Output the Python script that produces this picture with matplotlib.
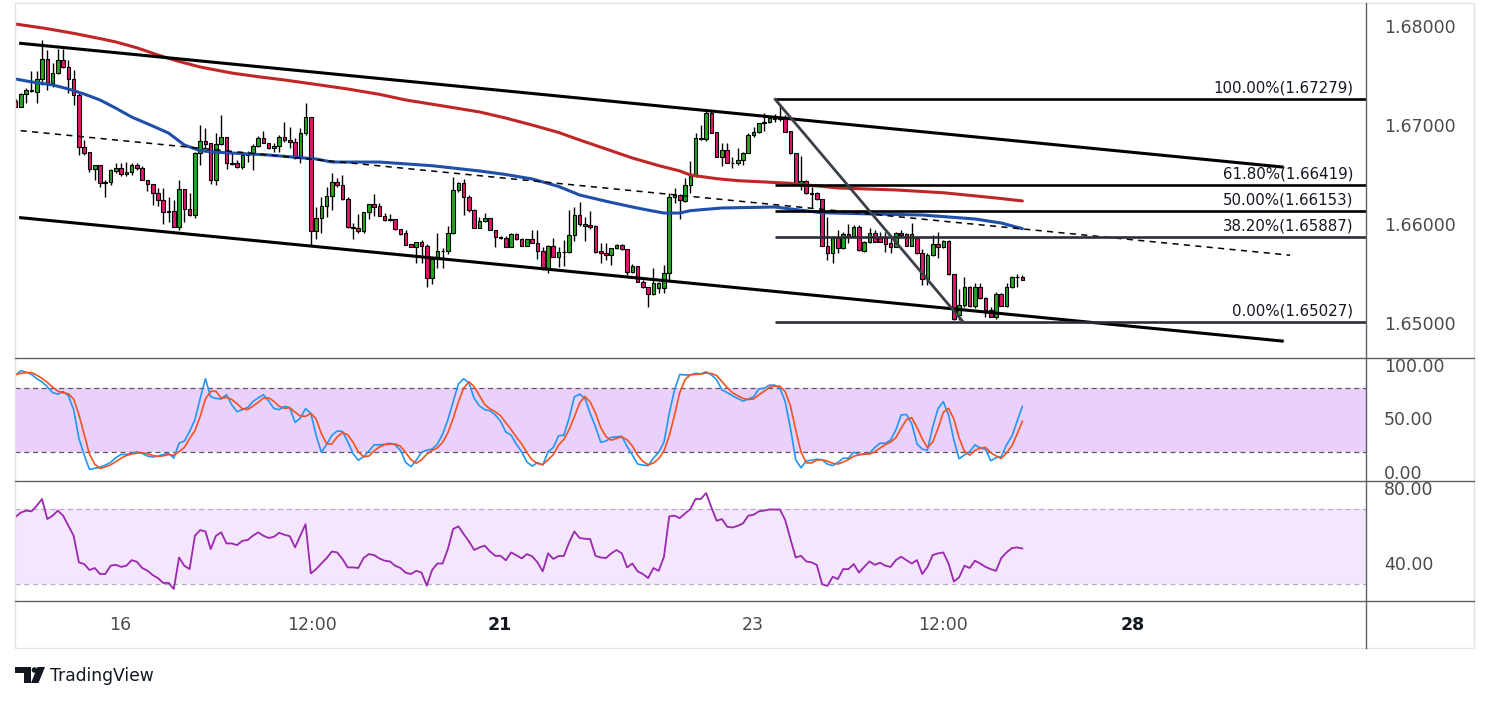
import numpy as np
import matplotlib
matplotlib.use('Agg')
import matplotlib.pyplot as plt
from matplotlib.patches import Polygon, Circle
import matplotlib.transforms as mtransforms

# ---------------- data ----------------
opens = [1.67266,1.67205,1.67330,1.67364,1.67357,1.67482,1.67684,1.67441,1.67542,1.67674,
1.67603,1.67482,1.67323,1.66795,1.66748,1.66573,1.66613,1.66438,1.66442,1.66559,
1.66583,1.66522,1.66543,1.66613,1.66583,1.66462,1.66421,1.66330,1.66263,1.66152,
1.66152,1.65987,1.66371,1.66169,1.66108,1.66740,1.66856,1.66835,1.66462,1.66828,
1.66899,1.66633,1.66633,1.66599,1.66717,1.66727,1.66808,1.66889,1.66835,1.66785,
1.66808,1.66899,1.66869,1.66848,1.66684,1.66936,1.67098,1.65950,1.66078,1.66202,
1.66303,1.66442,1.66414,1.66273,1.65987,1.65980,1.65953,1.66139,1.66219,1.66202,
1.66104,1.66061,1.66071,1.65967,1.65926,1.65818,1.65791,1.65835,1.65801,1.65472,
1.65667,1.65751,1.65748,1.65926,1.66364,1.66431,1.66296,1.66162,1.65983,1.66051,
1.66078,1.65960,1.65886,1.65876,1.65791,1.65919,1.65866,1.65801,1.65866,1.65825,
1.65751,1.65573,1.65798,1.65690,1.65734,1.65740,1.65909,1.66111,1.66020,1.66010,
1.65995,1.65748,1.65724,1.65710,1.65775,1.65808,1.65765,1.65539,1.65596,1.65438,
1.65381,1.65313,1.65371,1.65371,1.65529,1.66296,1.66313,1.66256,1.66414,1.66505,
1.66876,1.66876,1.67145,1.66953,1.66700,1.66768,1.66633,1.66633,1.66667,1.66734,
1.66919,1.66953,1.67037,1.67047,1.67086,1.67078,1.67088,1.66960,1.66734,1.66438,
1.66458,1.66337,1.66337,1.66270,1.65798,1.65730,1.65876,1.65775,1.65919,1.65899,
1.65993,1.65751,1.65835,1.65926,1.65882,1.65882,1.65825,1.65791,1.65933,1.65919,
1.65801,1.65876,1.65724,1.65462,1.65707,1.65818,1.65791,1.65849,1.65512,1.65101,
1.65202,1.65381,1.65192,1.65381,1.65270,1.65152,1.65078,1.65313,1.65192,1.65381,
1.65482,1.65488]

closes = [1.67205,1.67330,1.67374,1.67374,1.67482,1.67684,1.67441,1.67542,1.67674,1.67603,
1.67482,1.67323,1.66795,1.66740,1.66573,1.66613,1.66438,1.66442,1.66566,1.66583,
1.66522,1.66543,1.66613,1.66583,1.66462,1.66421,1.66330,1.66263,1.66139,1.66139,
1.65987,1.66371,1.66169,1.66108,1.66740,1.66856,1.66828,1.66462,1.66828,1.66899,
1.66633,1.66623,1.66599,1.66717,1.66727,1.66808,1.66889,1.66835,1.66785,1.66808,
1.66899,1.66869,1.66848,1.66684,1.66936,1.67098,1.65950,1.66078,1.66202,1.66303,
1.66442,1.66414,1.66273,1.65987,1.65983,1.65953,1.66139,1.66219,1.66195,1.66104,
1.66061,1.66071,1.65967,1.65919,1.65808,1.65791,1.65835,1.65801,1.65472,1.65667,
1.65751,1.65748,1.65926,1.66364,1.66431,1.66296,1.66162,1.65983,1.66051,1.66078,
1.65960,1.65886,1.65883,1.65791,1.65919,1.65866,1.65801,1.65866,1.65825,1.65751,
1.65573,1.65798,1.65690,1.65734,1.65740,1.65909,1.66111,1.66017,1.66000,1.65987,
1.65741,1.65724,1.65710,1.65775,1.65808,1.65765,1.65539,1.65596,1.65438,1.65381,
1.65313,1.65421,1.65421,1.65529,1.66296,1.66313,1.66263,1.66414,1.66505,1.66886,
1.66886,1.67145,1.66943,1.66700,1.66768,1.66633,1.66640,1.66667,1.66740,1.66919,
1.66953,1.67037,1.67047,1.67086,1.67078,1.67098,1.66953,1.66734,1.66438,1.66458,
1.66330,1.66323,1.66270,1.65798,1.65730,1.65876,1.65775,1.65919,1.65899,1.65993,
1.65758,1.65835,1.65926,1.65842,1.65842,1.65818,1.65791,1.65933,1.65909,1.65801,
1.65919,1.65724,1.65462,1.65707,1.65818,1.65791,1.65849,1.65512,1.65058,1.65202,
1.65381,1.65192,1.65381,1.65270,1.65152,1.65084,1.65313,1.65192,1.65381,1.65482,
1.65488,1.65455]

highs = [1.67283,1.67347,1.67391,1.67566,1.67566,1.67879,1.67778,1.67643,1.67785,1.67785,
1.67677,1.67576,1.67340,1.66869,1.66748,1.66613,1.66613,1.66465,1.66573,1.66633,
1.66633,1.66643,1.66633,1.66633,1.66606,1.66462,1.66421,1.66381,1.66381,1.66290,
1.66263,1.66465,1.66371,1.66330,1.66751,1.67020,1.66990,1.66835,1.66936,1.67121,
1.66899,1.66734,1.66667,1.66734,1.66761,1.66828,1.66909,1.66963,1.66835,1.66835,
1.66916,1.67051,1.67003,1.66886,1.66987,1.67239,1.67100,1.66195,1.66296,1.66397,
1.66532,1.66482,1.66515,1.66296,1.66033,1.66121,1.66145,1.66222,1.66320,1.66229,
1.66135,1.66121,1.66071,1.65967,1.65960,1.65818,1.65838,1.65859,1.65818,1.65674,
1.65926,1.65775,1.66000,1.66492,1.66448,1.66472,1.66313,1.66168,1.66088,1.66128,
1.66080,1.65960,1.65899,1.65899,1.65933,1.65933,1.65876,1.65870,1.65960,1.65960,
1.65791,1.65808,1.65876,1.65791,1.65859,1.66162,1.66195,1.66246,1.66094,1.66152,
1.66010,1.65831,1.65831,1.65778,1.65815,1.65815,1.65765,1.65616,1.65600,1.65455,
1.65387,1.65579,1.65438,1.65606,1.66330,1.66381,1.66320,1.66482,1.66660,1.66936,
1.67020,1.67179,1.67165,1.66953,1.66842,1.66842,1.66700,1.66785,1.66751,1.66936,
1.67003,1.67044,1.67138,1.67104,1.67128,1.67230,1.67121,1.66960,1.66734,1.66707,
1.66465,1.66397,1.66340,1.66273,1.66094,1.65892,1.65960,1.65943,1.66017,1.66010,
1.66010,1.65845,1.65977,1.65960,1.65943,1.65943,1.65892,1.65943,1.65960,1.65926,
1.66027,1.65892,1.65765,1.65724,1.65909,1.65943,1.65859,1.65859,1.65515,1.65361,
1.65488,1.65390,1.65428,1.65428,1.65280,1.65185,1.65337,1.65327,1.65428,1.65495,
1.65515,1.65505]

lows = [1.67202,1.67202,1.67239,1.67357,1.67239,1.67424,1.67374,1.67401,1.67540,1.67593,
1.67340,1.67222,1.66717,1.66717,1.66549,1.66465,1.66391,1.66290,1.66414,1.66532,
1.66508,1.66508,1.66515,1.66566,1.66462,1.66357,1.66212,1.66202,1.66020,1.66044,
1.65985,1.65960,1.66044,1.66105,1.66078,1.66616,1.66785,1.66424,1.66411,1.66818,
1.66573,1.66616,1.66589,1.66573,1.66643,1.66566,1.66801,1.66835,1.66778,1.66751,
1.66751,1.66852,1.66785,1.66674,1.66640,1.66919,1.65808,1.65866,1.65926,1.66094,
1.66162,1.66397,1.66263,1.65976,1.65866,1.65933,1.65933,1.66068,1.66101,1.66101,
1.66054,1.66054,1.65960,1.65909,1.65808,1.65784,1.65623,1.65623,1.65381,1.65414,
1.65573,1.65573,1.65717,1.65919,1.66347,1.66111,1.66145,1.65976,1.65976,1.66044,
1.65958,1.65791,1.65866,1.65788,1.65788,1.65859,1.65797,1.65797,1.65825,1.65664,
1.65556,1.65529,1.65690,1.65583,1.65596,1.65724,1.65849,1.66000,1.65852,1.65967,
1.65730,1.65630,1.65657,1.65606,1.65771,1.65758,1.65505,1.65529,1.65435,1.65371,
1.65185,1.65303,1.65327,1.65320,1.65455,1.66229,1.66068,1.66246,1.66337,1.66492,
1.66869,1.66862,1.66943,1.66700,1.66606,1.66633,1.66583,1.66616,1.66616,1.66734,
1.66896,1.66943,1.66963,1.67040,1.67051,1.67060,1.66950,1.66730,1.66435,1.66364,
1.66327,1.66179,1.66266,1.65795,1.65657,1.65630,1.65724,1.65765,1.65825,1.65892,
1.65751,1.65741,1.65825,1.65838,1.65838,1.65741,1.65724,1.65788,1.65892,1.65797,
1.65797,1.65717,1.65404,1.65404,1.65697,1.65674,1.65775,1.65505,1.65055,1.65051,
1.65179,1.65185,1.65169,1.65260,1.65084,1.65078,1.65058,1.65192,1.65179,1.65371,
1.65387,1.65455]

# moving averages sampled at candle indices
ma_red_idx = [0, 6, 11, 16, 19, 23, 27, 31, 35, 41, 46, 51, 57, 63, 69, 74, 81, 88, 93, 98, 103, 107,
              112, 117, 122, 126, 128, 133, 137, 142, 147, 156, 167, 176, 186, 191]
ma_red_val = [1.68040,1.67993,1.67946,1.67893,1.67859,1.67800,1.67727,1.67662,1.67606,1.67545,1.67508,
              1.67475,1.67430,1.67384,1.67330,1.67273,1.67213,1.67152,1.67090,1.67020,1.66945,1.66869,
              1.66778,1.66687,1.66610,1.66556,1.66515,1.66478,1.66458,1.66445,1.66431,1.66384,1.66364,
              1.66336,1.66283,1.66253]
ma_blue_idx = [0, 3, 7, 10, 13, 16, 19, 22, 26, 29, 32, 35, 38, 41, 48, 57, 60, 69, 79, 88, 93, 98, 103,
               107, 112, 117, 120, 123, 126, 128, 134, 144, 153, 163, 172, 182, 187, 191]
ma_blue_val = [1.67485,1.67455,1.67425,1.67384,1.67333,1.67273,1.67190,1.67101,1.67010,1.66939,1.66818,
               1.66761,1.66745,1.66737,1.66717,1.66677,1.66646,1.66646,1.66609,1.66556,1.66520,1.66475,
               1.66400,1.66313,1.66250,1.66192,1.66160,1.66131,1.66131,1.66155,1.66182,1.66192,1.66134,
               1.66121,1.66111,1.66071,1.66030,1.65973]

# drawings (candle index, price)
channel_upper = [(0.95, 1.67845), (240.3, 1.66596)]
channel_lower = [(0.95, 1.66084), (240.3, 1.64838)]
channel_mid = [(0.95, 1.66963), (241.8, 1.65705)]
fib_diag = [(144.1, 1.67279), (179.8, 1.65030)]
fib_start = 144.1
fib_high, fib_low = 1.67279, 1.65027
fib_ratios = [1.0, 0.618, 0.5, 0.382, 0.0]
fib_colors = ['#000000', '#000000', '#000000', '#2a2e39', '#2a2e39']

stoch_k = [92.5,96.5,95,93,89,86,81.5,76,74.5,77,
73,60,33,17.5,4,5,6,8,10.5,15,
18,18,19,20.5,19,16.5,15.5,16.5,18,19,
14.5,28.5,30.5,39.5,50.5,70.5,89,72,70.5,70,
74,64.5,58,60,62,67.5,71,74,68,61,
60,63,62,48,52,61,56.5,36,20,27.5,
36,40,39.5,30,19,12.5,16,21,27,27,
27.5,28.5,27,22,10.5,6.5,12.5,20,22,23,
27.5,37,50.5,67.5,84,89,85,70.5,63.5,60,
59,55,49,39,36,27.5,20.5,11,7,10.5,
8,20.5,24.5,35.5,36,52,72,74.5,70.5,56.5,
44,29.5,30.5,34,34.5,35,25.5,17.5,9,8,
7.5,14.5,20,29.5,56.5,78.5,93,92.5,92.5,94,
93.5,95.5,92.5,88,78.5,76,73,70.5,68,70,
72,79.5,80,83,83,80,67.5,42.5,13,5.5,
12,12.5,13.5,13,9,7.5,10.5,14.5,14.5,20,
18,18,19,24.5,28.5,28.5,31.5,41,55,55.5,
47,28,23,22,44,61,67.5,55,31.5,14,
17.5,20.6,27,24,23,12,15,16,27,35,
49,63]

stoch_d = [93,94,94.7,94.8,92.3,89.3,85.5,81.2,77.3,75.8,
74.8,70,55.3,36.8,18.2,8.8,5,6.3,8.2,11.2,
14.5,17,18.3,19.2,19.5,18.7,17,16.2,16.7,17.8,
17.2,20.7,24.5,32.8,40.2,53.5,70,77.2,77.2,70.8,
71.5,69.5,65.5,60.8,60,63.2,66.8,70.8,71,67.7,
63,61.3,61.7,57.7,54,53.7,56.5,51.2,37.5,27.8,
27.8,34.5,38.5,36.5,29.5,20.5,15.8,16.5,21.3,25,
27.2,27.7,27.7,25.8,19.8,13,9.8,13,18.2,21.7,
24.2,29.2,38.3,51.7,67.3,80.2,86,81.5,73,64.7,
60.8,58,54.3,47.7,41.3,34.2,28,19.7,12.8,9.5,
8.5,13,17.7,26.8,32,41.2,53.3,66.2,72.3,67.2,
57,43.3,34.7,31.3,33,34.5,31.7,26,17.3,11.5,
8.2,10,14,21.3,35.3,54.8,76,88,92.7,93,
93.3,94.3,93.8,92,86.3,80.8,75.8,73.2,70.5,69.5,
70,73.8,77.2,80.8,82,82,76.8,63.3,41,20.3,
10.2,10,12.7,13,11.8,9.8,9,10.8,13.2,16.3,
17.5,18.7,18.3,20.5,24,27.2,29.5,33.7,42.5,50.5,
52.5,43.5,32.7,24.3,29.7,42.3,57.5,61.2,51.3,33.5,
21,17.4,21.7,23.9,24.7,19.7,16.7,14.3,19.3,26,
37,49]

rsi = [65.7,68,69,68.6,71.6,75.2,64.5,66.3,69,66.3,
61,55.6,41.4,40.5,37.3,38.4,35.2,35.2,39.6,40.1,
39,39.6,42.6,41.7,38.4,37,34.6,33,30.4,30.5,
27.2,44,39.6,37.8,55.6,58.6,57.9,48.5,55.6,57.4,
51.5,51.5,50.6,52.9,53.3,55.6,57.4,55.6,54.4,55.1,
57.2,56.1,55.4,49.4,55.6,61.8,35.5,37.8,40.8,43.7,
47.2,46.7,43.2,38.7,38.7,38.4,43.7,45.8,45.3,43.5,
42.3,41.9,39.6,38.4,35.9,35.2,36.9,36,28.9,37.3,
40.8,40.8,48.5,59.2,60.6,56.5,52.6,48,49.4,50.3,
47.2,44.9,44.9,42.5,46.7,45.2,43.5,45.8,44.6,41.4,
36.6,46.2,43.2,44.8,44.8,52,57.9,54.4,54,53.8,
44.9,44,43.7,46.2,48,46.2,38.7,40.8,36.6,35.2,
33,38.4,36.9,44.4,65.9,66.3,65,67.5,69.8,75.2,
75.2,78.4,70.7,63.6,64.5,60.4,60,60.9,62.2,66.3,
66.8,68.6,69,69.6,69.6,69.6,64,53.8,44,44.9,
41.9,41.4,40,29.8,28.8,33.7,32.5,37.8,37.8,40.5,
36,39,41.9,40.1,41.2,39.6,39,42.6,44.4,42.6,
40.8,42.6,35.2,39,45.3,46.2,46.7,40.8,31.2,33.4,
39.6,38.4,42.3,40.8,39,37.8,36.9,43.7,46.7,49,
49.4,48.8]

price_ticks = [1.68, 1.67, 1.66, 1.65]
stoch_ticks = [100, 50, 0]
rsi_ticks = [80, 40]
time_tick_pos = [19.8, 56.2, 91.9, 139.9, 176.0, 212.0]
time_tick_lab = ['16', '12:00', '21', '23', '12:00', '28']
time_tick_bold = [False, False, True, False, False, True]

# ---------------- figure ----------------
W, H = 1489, 702
fig = plt.figure(figsize=(W / 100, H / 100), dpi=100)
fig.patch.set_facecolor('white')

def rect(x0, y0, x1, y1):
    return [x0 / W, 1 - y1 / H, (x1 - x0) / W, (y1 - y0) / H]

ax = fig.add_axes(rect(15, 3, 1366, 358))
ax_st = fig.add_axes(rect(15, 358, 1366, 481))
ax_rsi = fig.add_axes(rect(15, 481, 1366, 601))
XL = (-0.13, 256.2)
for a in (ax, ax_st, ax_rsi):
    a.set_xlim(*XL)
    a.set_xticks([]); a.set_yticks([])
    for s in a.spines.values():
        s.set_visible(False)

ax.set_ylim(1.646667, 1.682525)
ax_st.set_ylim(-6.9, 108.4)
ax_rsi.set_ylim(20.8, 84.8)

GREEN = '#22a81e'
PINK = '#e3166f'
idx = np.arange(len(opens))
o = np.array(opens); c = np.array(closes); h = np.array(highs); l = np.array(lows)
up = c >= o
cols = np.where(up, GREEN, PINK)
hi = np.maximum(h, np.maximum(o, c))
lo = np.minimum(l, np.minimum(o, c))
ax.vlines(idx, lo, hi, color='black', linewidth=1.0, zorder=2)
body_bot = np.minimum(o, c)
body_h = np.maximum(np.abs(c - o), 0.00003)
ax.bar(idx, body_h, bottom=body_bot, width=0.68, color=cols, edgecolor='black',
       linewidth=0.8, zorder=2.5)

# moving averages
ax.plot(ma_red_idx, ma_red_val, color='#c02626', linewidth=2.2, zorder=3,
        solid_capstyle='round', solid_joinstyle='round')
ax.plot(ma_blue_idx, ma_blue_val, color='#1f4fa8', linewidth=2.2, zorder=3,
        solid_capstyle='round', solid_joinstyle='round')

# channel
for seg in (channel_upper, channel_lower):
    xs, ys = zip(*seg)
    ax.plot(xs, ys, color='black', linewidth=2.2, zorder=4)
xs, ys = zip(*channel_mid)
ax.plot(xs, ys, color='black', linewidth=1.1, linestyle=(0, (4, 3.5)), zorder=4)

# fib
blend = mtransforms.blended_transform_factory(ax.transAxes, ax.transData)
for r, col in zip(fib_ratios, fib_colors):
    lvl = fib_low + (fib_high - fib_low) * r
    ax.hlines(lvl, fib_start, XL[1], color=col, linewidth=1.9, zorder=4)
    ax.annotate(f"{r*100:.2f}%({lvl:.5f})", xy=(0.9904, lvl), xycoords=blend,
                xytext=(0, 2.5), textcoords='offset points', ha='right', va='bottom',
                fontsize=10.8, color='#131722', zorder=6)
xs, ys = zip(*fib_diag)
ax.plot(xs, ys, color='#3b3f49', linewidth=2.0, zorder=4.5)

# price labels
for p in price_ticks:
    ax.text(1.0134, p, f"{p:.5f}", transform=blend, ha='left', va='center',
            fontsize=12.5, color='#4a4a4a', clip_on=False)

# stochastic
ax_st.axhspan(20, 80, color='#e9d1fb', zorder=0, linewidth=0)
ax_st.axhline(80, color='#5d5268', linewidth=0.9, linestyle=(0, (4, 3)), zorder=1)
ax_st.axhline(20, color='#5d5268', linewidth=0.9, linestyle=(0, (4, 3)), zorder=1)
ax_st.plot(idx, stoch_k, color='#2196f3', linewidth=1.2, zorder=3)
ax_st.plot(idx, stoch_d, color='#f4511e', linewidth=1.2, zorder=3)
bst = mtransforms.blended_transform_factory(ax_st.transAxes, ax_st.transData)
for v in stoch_ticks:
    ax_st.text(1.0134, v, f"{v:.2f}", transform=bst, ha='left', va='center',
               fontsize=12.5, color='#4a4a4a', clip_on=False)

# RSI
ax_rsi.axhspan(30, 70, color='#f4e7fd', zorder=0, linewidth=0)
ax_rsi.axhline(70, color='#b9a9c8', linewidth=0.9, linestyle=(0, (4, 3)), zorder=1)
ax_rsi.axhline(30, color='#b9a9c8', linewidth=0.9, linestyle=(0, (4, 3)), zorder=1)
ax_rsi.plot(idx, rsi, color='#9c27b0', linewidth=1.3, zorder=3)
brsi = mtransforms.blended_transform_factory(ax_rsi.transAxes, ax_rsi.transData)
for v in rsi_ticks:
    ax_rsi.text(1.0134, v, f"{v:.2f}", transform=brsi, ha='left', va='center',
                fontsize=12.5, color='#4a4a4a', clip_on=False)

# time labels
bt = mtransforms.blended_transform_factory(ax_rsi.transData, ax_rsi.transAxes)
for pos, lab, b in zip(time_tick_pos, time_tick_lab, time_tick_bold):
    ax_rsi.text(pos, -0.2, lab, transform=bt, ha='center', va='center', fontsize=12.5,
                color='#131722' if b else '#4a4a4a', fontweight='bold' if b else 'normal',
                clip_on=False)

# ---------------- frame overlay ----------------
ov = fig.add_axes([0, 0, 1, 1], zorder=10)
ov.set_xlim(0, W); ov.set_ylim(H, 0)
ov.patch.set_alpha(0)
ov.axis('off')
light = '#e0e3eb'
dark = '#5d606b'
ov.plot([15, 1474, 1474, 15, 15], [3, 3, 648, 648, 3], color=light, linewidth=1.0)
ov.plot([1366, 1366], [3, 648], color=dark, linewidth=1.0)
for yy in (358, 481, 601):
    ov.plot([15, 1474], [yy, yy], color=dark, linewidth=1.0)

# TradingView logo
ov.add_patch(Polygon([(15, 667), (31, 667), (31, 683), (23.5, 683), (23.5, 673), (15, 673)],
                     closed=True, color='#131722', linewidth=0))
ov.add_patch(Circle((34.5, 670), 2.8, color='#131722', linewidth=0))
ov.add_patch(Polygon([(37.5, 667), (45, 667), (38.5, 683), (31, 683)], closed=True,
                     color='#131722', linewidth=0))
ov.text(50, 676, 'TradingView', fontsize=12.3, color='#131722', ha='left', va='center')

fig.savefig('out.png', dpi=100, facecolor='white')
